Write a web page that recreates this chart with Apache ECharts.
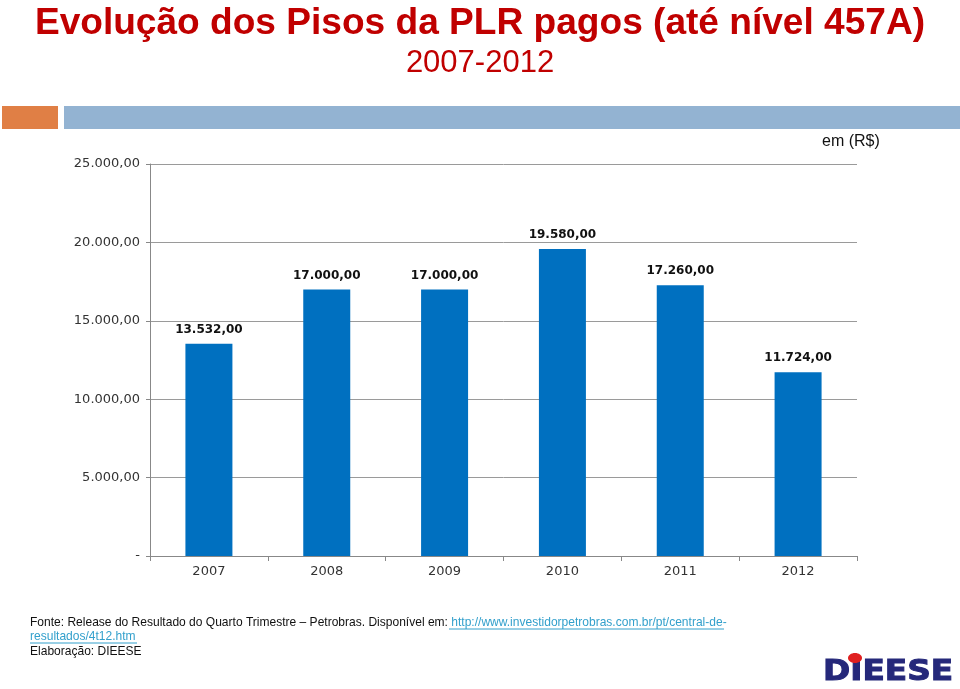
<!DOCTYPE html>
<html><head><meta charset="utf-8">
<script src="https://cdn.jsdelivr.net/npm/echarts@6/dist/echarts.min.js"></script>
<style>html,body{margin:0;padding:0;background:#fff}#c{width:960px;height:689px}</style>
</head><body><div id="c"></div>
<script>
const categories = ['2007','2008','2009','2010','2011','2012'];
const values = [13532, 17000, 17000, 19580, 17260, 11724];
const yTicks = [0, 5000, 10000, 15000, 20000, 25000];

function fmt(v){
  if (v === 0) return '-';
  const p = v.toFixed(2).split('.');
  return p[0].replace(/\B(?=(\d{3})+(?!\d))/g, '.') + ',' + p[1];
}

const foot = '13px "Liberation Sans"';
const sx = 0.925;
const chart = echarts.init(document.getElementById('c'), null, {renderer:'canvas'});
chart.setOption({
  backgroundColor:'#fff',
  animation:false,
  graphic:[
    {type:'text', x:480, y:6, scaleX:1.03, style:{text:'Evolução dos Pisos da PLR pagos (até nível 457A)', font:'bold 36px "Liberation Sans"', fill:'#C00000', textAlign:'center', textVerticalAlign:'top'}},
    {type:'text', x:480, y:48, style:{text:'2007-2012', font:'31px "Liberation Sans"', fill:'#C00000', textAlign:'center', textVerticalAlign:'top'}},
    {type:'rect', shape:{x:2,y:106,width:56,height:23}, style:{fill:'#E07F45'}},
    {type:'rect', shape:{x:64,y:106,width:896,height:23}, style:{fill:'#93B3D2'}},
    {type:'text', left:822, top:134, style:{text:'em (R$)', font:'16px "Liberation Sans"', fill:'#111'}},
    {type:'text', x:30, y:616, scaleX:sx, style:{
      text:'Fonte: Release do Resultado do Quarto Trimestre – Petrobras. Disponível em: {l|http://www.investidorpetrobras.com.br/pt/central-de-}',
      font:foot, fill:'#111', textVerticalAlign:'top',
      rich:{l:{font:foot, fill:'#33A0CC'}}}},
    {type:'line', shape:{x1:449,y1:629,x2:724,y2:629}, style:{stroke:'#33A0CC', lineWidth:1}},
    {type:'text', x:30, y:630, scaleX:sx, style:{text:'resultados/4t12.htm', font:foot, fill:'#33A0CC', textVerticalAlign:'top'}},
    {type:'line', shape:{x1:30,y1:643,x2:137,y2:643}, style:{stroke:'#33A0CC', lineWidth:1}},
    {type:'text', x:30, y:645, scaleX:sx, style:{text:'Elaboração: DIEESE', font:foot, fill:'#111', textVerticalAlign:'top'}},
    {type:'text', x:823, y:687, scaleX:1.17, style:{text:'DIEESE', font:'bold 28px "DejaVu Sans"', fill:'#25287A', stroke:'#25287A', lineWidth:1, textVerticalAlign:'bottom'}},
    {type:'ellipse', shape:{cx:855, cy:658, rx:7, ry:5}, style:{fill:'#E02020'}}
  ],
  grid:{left:150, right:103, top:164, bottom:133, containLabel:false},
  xAxis:{
    type:'category', data:categories,
    axisLine:{lineStyle:{color:'#888', width:1}},
    axisTick:{show:true, length:5, lineStyle:{color:'#888'}},
    axisLabel:{color:'#333', fontSize:13, fontFamily:'DejaVu Sans', margin:9}
  },
  yAxis:{
    type:'value', min:yTicks[0], max:yTicks[yTicks.length-1], interval:5000,
    axisLine:{show:true, lineStyle:{color:'#888'}},
    axisTick:{show:true, length:4, lineStyle:{color:'#888'}},
    splitLine:{lineStyle:{color:'#9a9a9a', width:1}},
    axisLabel:{color:'#333', fontSize:13, fontFamily:'DejaVu Sans', margin:10, formatter:fmt}
  },
  series:[{
    type:'bar', data:values, barWidth:47,
    itemStyle:{color:'#0070C0'},
    label:{show:true, position:'top', distance:8, formatter:p=>fmt(p.value),
      fontFamily:'DejaVu Sans', fontWeight:'bold', fontSize:12, color:'#111'}
  }]
});
</script></body></html>
